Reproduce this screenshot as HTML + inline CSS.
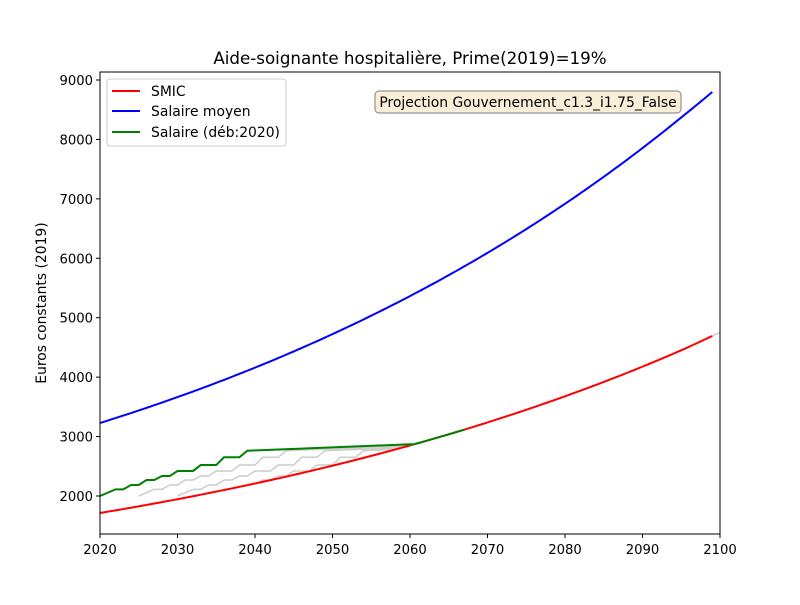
<!DOCTYPE html>
<html><head><meta charset="utf-8"><style>
body{margin:0;background:#fff}
svg{font-family:"DejaVu Sans","Liberation Sans",sans-serif}
</style></head><body>
<svg id="c" width="800" height="600" xmlns="http://www.w3.org/2000/svg">
<rect width="800" height="600" fill="#fff"/>
<text x="410" y="64" font-size="16.7" text-anchor="middle">Aide-soignante hospitalière, Prime(2019)=19%</text>
<g id="plot"></g>
<rect x="100" y="72" width="620" height="462" fill="none" stroke="#000" stroke-width="1"/>
<g id="axes" font-size="13.2"></g>
<text transform="translate(46,303) rotate(-90)" font-size="13.9" text-anchor="middle">Euros constants (2019)</text>
<g>
<rect x="107" y="79" width="179" height="67" rx="3" fill="#fff" stroke="#ccc"/>
<line x1="112" y1="91" x2="140" y2="91" stroke="red" stroke-width="2"/>
<text x="151" y="96" font-size="13.9">SMIC</text>
<line x1="112" y1="111" x2="140" y2="111" stroke="blue" stroke-width="2"/>
<text x="151" y="116" font-size="13.9">Salaire moyen</text>
<line x1="112" y1="132" x2="140" y2="132" stroke="green" stroke-width="2"/>
<text x="151" y="137" font-size="13.9">Salaire (déb:2020)</text>
</g>
<g>
<rect x="375" y="91" width="306" height="22" rx="4" fill="#f5deb3" fill-opacity="0.5" stroke="#7f7f7f"/>
<text x="528" y="107" font-size="13.9" text-anchor="middle">Projection Gouvernement_c1.3_i1.75_False</text>
</g>
</svg>
<script>
const years=[2020,2025,2030,2035,2040,2045,2050,2055,2060,2065,2070,2075,2080,2085,2090,2095,2099,2100];
const smic=[1714,1826,1946,2074,2210,2355,2510,2675,2851,3038,3238,3451,3678,3919,4177,4452,4692,4752];
const moyen=[3228,3439,3664,3904,4160,4433,4724,5034,5364,5716,6091,6491,6917,7371,7855,8370,8798,8910];
const greenYears=[2020,2022,2023,2024,2025,2026,2027,2028,2029,2030,2032,2033,2035,2036,2038,2039,2060];
const greenVals=[2000,2112,2112,2185,2185,2269,2269,2336,2336,2421,2421,2521,2521,2651,2651,2762,2870];
const greyOffsets=[5,10,15,20,25,30];
const xTicks=[2020,2030,2040,2050,2060,2070,2080,2090,2100];
const yTicks=[2000,3000,4000,5000,6000,7000,8000,9000];
const X=v=>100+(v-2020)*620/80;
const Y=v=>496-(v-2000)*59.43/1000;
const NS="http://www.w3.org/2000/svg";
const plot=document.getElementById('plot'),axes=document.getElementById('axes');
function red(y){for(let i=0;i<years.length-1;i++){if(y<=years[i+1]){const t=(y-years[i])/(years[i+1]-years[i]);return smic[i]*Math.pow(smic[i+1]/smic[i],t);}}return smic[smic.length-1];}
function mk(tag,attrs){const e=document.createElementNS(NS,tag);for(const k in attrs)e.setAttribute(k,attrs[k]);return e;}
function smooth(ys,vs,x0,x1){const p=[];for(let y=x0;y<=x1+1e-9;y+=0.5){let v;for(let i=0;i<ys.length-1;i++){if(y<=ys[i+1]){const t=(y-ys[i])/(ys[i+1]-ys[i]);v=vs[i]*Math.pow(vs[i+1]/vs[i],t);break;}}if(v===undefined)v=vs[vs.length-1];p.push(X(y)+','+Y(v));}return p.join(' ');}
greyOffsets.forEach((o,k)=>{
  const pts=[];
  for(let i=0;i<greenYears.length-1;i++){const yr=greenYears[i]+o;if(yr>2067)break;pts.push(X(yr)+','+Y(Math.max(greenVals[i],red(yr))));}
  for(let yr=2039+o;yr<=2067;yr+=1){pts.push(X(yr)+','+Y(Math.max(2762+(2870-2762)*(yr-2039-o)/21,red(yr))));}
  const l=mk('polyline',{points:pts.join(' '),fill:'none',stroke:'#cccccc','stroke-width':1.5});
  
  
  plot.appendChild(l);
});
const gtail=mk('polyline',{points:smooth(years,smic,2099,2100),fill:'none',stroke:'#cccccc','stroke-width':1.5});


plot.appendChild(gtail);
const lb=mk('polyline',{points:smooth(years,moyen,2020,2099),fill:'none',stroke:'blue','stroke-width':2});


plot.appendChild(lb);
const lr=mk('polyline',{points:smooth(years,smic,2020,2099),fill:'none',stroke:'red','stroke-width':2});


plot.appendChild(lr);
let gp=greenYears.map((y,i)=>X(y)+','+Y(greenVals[i])).join(' ')+' '+smooth(years,smic,2060.5,2067);
const lg=mk('polyline',{points:gp,fill:'none',stroke:'green','stroke-width':2});


plot.appendChild(lg);
xTicks.forEach(t=>{
  const l=mk('line',{x1:X(t),x2:X(t),y1:534,y2:538,stroke:'#000'});
  
  
  axes.appendChild(l);
  const tx=mk('text',{x:X(t),y:554,'text-anchor':'middle'});tx.textContent=t;
  
  
  axes.appendChild(tx);
});
yTicks.forEach(t=>{
  const l=mk('line',{x1:96,x2:100,y1:Y(t),y2:Y(t),stroke:'#000'});
  
  
  axes.appendChild(l);
  const tx=mk('text',{x:93,y:Y(t)+5,'text-anchor':'end'});tx.textContent=t;
  
  
  axes.appendChild(tx);
});
</script>
</body></html>
